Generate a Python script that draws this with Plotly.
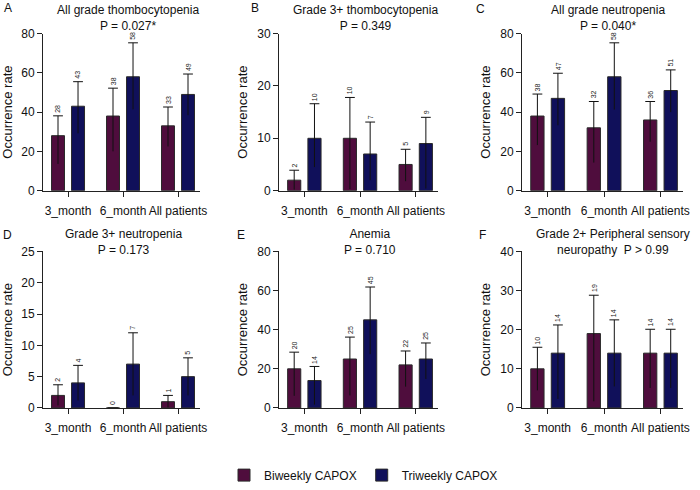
import plotly.graph_objects as go

categories = ["3_month", "6_month", "All patients"]
groups = ["Biweekly CAPOX", "Triweekly CAPOX"]
colors = ["#4f0d3d", "#10105a"]

letters = ["A", "B", "C", "D", "E", "F"]
title_line1 = ["All grade thombocytopenia", "Grade 3+ thombocytopenia", "All grade neutropenia",
               "Grade 3+ neutropenia", "Anemia", "Grade 2+ Peripheral sensory"]
title_line2 = ["P = 0.027*", "P = 0.349", "P = 0.040*", "P = 0.173", "P = 0.710", "neuropathy  P > 0.99"]
y_max = [80, 30, 80, 25, 80, 40]
y_step = [20, 10, 20, 5, 20, 10]

# Occurrence rate (%) and 95% CI bounds, per panel: [3_month, 6_month, All patients]
A_bi = [28, 38, 33];  A_bi_hi = [38.1, 52.2, 42.6];  A_bi_lo = [13.6, 20.0, 22.5]
A_tri = [43, 58, 49]; A_tri_hi = [55.5, 75.3, 59.4]; A_tri_lo = [29.2, 41.4, 38.4]

B_bi = [2, 10, 5];    B_bi_hi = [3.9, 17.8, 7.9];    B_bi_lo = [0.2, 0.3, 1.8]
B_tri = [10, 7, 9];   B_tri_hi = [16.6, 13.1, 14.0]; B_tri_lo = [4.5, 2.0, 0.4]

C_bi = [38, 32, 36];  C_bi_hi = [49.2, 45.4, 45.4];  C_bi_lo = [23.2, 14.3, 24.9]
C_tri = [47, 58, 51]; C_tri_hi = [59.8, 75.3, 61.5]; C_tri_lo = [33.3, 41.3, 40.0]

D_bi = [2, 0, 1];     D_bi_hi = [3.7, 0, 2.0];       D_bi_lo = [0.4, 0, 0.1]
D_tri = [4, 7, 5];    D_tri_hi = [6.8, 12.0, 8.0];   D_tri_lo = [1.2, 2.0, 2.0]

E_bi = [20, 25, 22];  E_bi_hi = [28.5, 36.2, 29.1];  E_bi_lo = [6.2, 6.4, 10.9]
E_tri = [14, 45, 25]; E_tri_hi = [21.2, 61.8, 33.2]; E_tri_lo = [1.7, 27.5, 14.8]

F_bi = [10, 19, 14];  F_bi_hi = [15.5, 28.8, 20.1];  F_bi_lo = [4.5, 1.7, 5.1]
F_tri = [14, 14, 14]; F_tri_hi = [21.2, 22.5, 20.1]; F_tri_lo = [2.3, 5.5, 5.1]

panels = [
    (A_bi, A_bi_hi, A_bi_lo, A_tri, A_tri_hi, A_tri_lo),
    (B_bi, B_bi_hi, B_bi_lo, B_tri, B_tri_hi, B_tri_lo),
    (C_bi, C_bi_hi, C_bi_lo, C_tri, C_tri_hi, C_tri_lo),
    (D_bi, D_bi_hi, D_bi_lo, D_tri, D_tri_hi, D_tri_lo),
    (E_bi, E_bi_hi, E_bi_lo, E_tri, E_tri_hi, E_tri_lo),
    (F_bi, F_bi_hi, F_bi_lo, F_tri, F_tri_hi, F_tri_lo),
]

W, H = 700, 490
col_px = [(43, 200), (279, 438), (522, 683)]
row_px = [(34, 193), (254.5, 413)]
title_cx = [128, 365, 608, 123, 370, 613]
title_mid_y = [18.5, 245]
letter_pos = [(8, 8), (255, 8), (480, 9), (7, 238), (241, 238), (482, 238)]

FONT = "Liberation Sans, Arial, sans-serif"
BAR_W = 0.236
GAP = 0.064
offsets = [-GAP - BAR_W, GAP]
centers = [-GAP - BAR_W / 2, GAP + BAR_W / 2]

fig = go.Figure()
annotations = []
layout = {}

xi = [0, 1, 2]
for p, data in enumerate(panels):
    r, c = divmod(p, 3)
    ax = "" if p == 0 else str(p + 1)
    xref, yref = "x" + ax, "y" + ax
    series = [(data[0], data[1], data[2]), (data[3], data[4], data[5])]
    for g, (vals, hi, lo) in enumerate(series):
        fig.add_trace(go.Bar(
            x=xi, y=vals, width=BAR_W, offset=offsets[g],
            marker=dict(color=colors[g], line=dict(color="#2a2a2a", width=1)),
            error_y=dict(type="data", symmetric=False,
                         array=[h - v for h, v in zip(hi, vals)],
                         arrayminus=[v - l for v, l in zip(vals, lo)],
                         width=0, thickness=1, color="#111111"),
            name=groups[g], showlegend=(p == 0), legendgroup=groups[g],
            xaxis=xref, yaxis=yref, hoverinfo="skip"))
        xs = [i + centers[g] for i in xi]
        fig.add_trace(go.Scatter(
            x=xs, y=hi, mode="markers",
            marker=dict(symbol="line-ew", size=7, line=dict(color="#111111", width=1)),
            showlegend=False, xaxis=xref, yaxis=yref, hoverinfo="skip"))
        for x, h, v in zip(xs, hi, vals):
            annotations.append(dict(
                x=x, y=h, xref=xref, yref=yref, text=str(v), showarrow=False,
                textangle=-90, xanchor="center", yanchor="bottom", yshift=1,
                font=dict(size=7, color="#222222", family=FONT)))
    x0, x1 = col_px[c]
    yt, yb = row_px[r]
    layout["xaxis" + ax] = dict(
        domain=[x0 / W, x1 / W], anchor=yref, range=[-0.455, 2.4], automargin=False,
        tickmode="array", tickvals=xi, ticktext=categories, tickangle=0,
        ticks="outside", ticklen=5, tickwidth=1, ticklabelstandoff=4,
        tickcolor="#222222", showline=True, linecolor="#222222", linewidth=1,
        showgrid=False, zeroline=False, fixedrange=True,
        tickfont=dict(size=12, color="#111111", family=FONT))
    layout["yaxis" + ax] = dict(
        domain=[1 - yb / H, 1 - yt / H], anchor=xref, range=[0, y_max[p]], automargin=False,
        dtick=y_step[p], tick0=0, ticks="outside", ticklen=5, tickwidth=1,
        tickcolor="#222222", showline=True, linecolor="#222222", linewidth=1,
        showgrid=False, zeroline=False, fixedrange=True,
        tickfont=dict(size=12, color="#111111", family=FONT),
        title=dict(text="Occurrence rate", standoff=6,
                   font=dict(size=13, color="#111111", family=FONT)))
    annotations.append(dict(
        x=title_cx[p] / W, y=1 - title_mid_y[r] / H, xref="paper", yref="paper",
        text=title_line1[p] + "<br>" + title_line2[p], showarrow=False,
        xanchor="center", yanchor="middle", align="center",
        font=dict(size=12, color="#111111", family=FONT)))
    lx, ly = letter_pos[p]
    annotations.append(dict(
        x=lx / W, y=1 - ly / H, xref="paper", yref="paper", text=letters[p],
        showarrow=False, xanchor="center", yanchor="middle",
        font=dict(size=12, color="#111111", family=FONT)))

fig.update_layout(
    width=W, height=H, margin=dict(l=0, r=0, t=0, b=0),
    paper_bgcolor="white", plot_bgcolor="white",
    font=dict(family=FONT, color="#111111"),
    annotations=annotations,
    legend=dict(orientation="h", x=224 / W, y=1 - 481 / H, xanchor="left", yanchor="middle",
                font=dict(size=12, family=FONT, color="#111111"),
                itemwidth=30, tracegroupgap=0, bgcolor="rgba(0,0,0,0)"),
    **layout)

fig.write_html("out.html")
